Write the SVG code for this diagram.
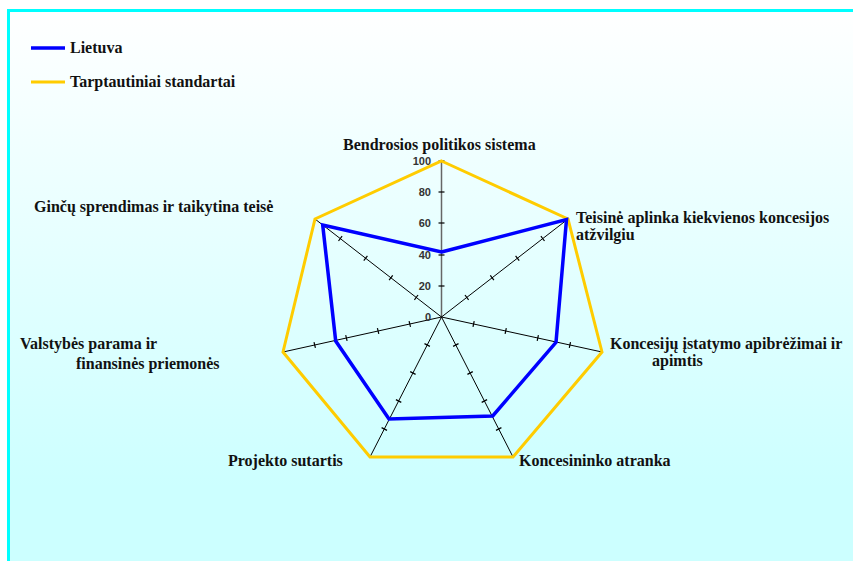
<svg xmlns="http://www.w3.org/2000/svg" width="853" height="561" viewBox="0 0 853 561">
<defs>
<linearGradient id="bg" x1="0" y1="0" x2="0" y2="1">
<stop offset="0" stop-color="#ffffff"/>
<stop offset="0.85" stop-color="#ccffff"/>
<stop offset="1" stop-color="#ccffff"/>
</linearGradient>
<style>
.lbl{font-family:"Liberation Serif","Times New Roman",serif;font-weight:bold;font-size:16px;fill:#111}
.num{font-family:"Liberation Sans",Arial,sans-serif;font-weight:bold;font-size:11px;fill:#333;text-anchor:end}
.ax{stroke:#000;stroke-width:1;fill:none}
.tk{stroke:#000;stroke-width:1.2}
.lt{fill:none;stroke:#0000ff;stroke-width:3.5;stroke-linejoin:miter}
.st{fill:none;stroke:#ffcc00;stroke-width:3;stroke-linejoin:miter}
</style>
</defs>
<rect x="0" y="0" width="853" height="561" fill="#ffffff"/>
<rect x="8.5" y="10.5" width="860" height="560" fill="url(#bg)" stroke="#00ffff" stroke-width="3"/>

<g id="legend">
<line x1="31" y1="48" x2="65" y2="48" class="lt"/>
<text x="70" y="53" class="lbl">Lietuva</text>
<line x1="31" y1="82" x2="65" y2="82" class="st"/>
<text x="70" y="87" class="lbl">Tarptautiniai standartai</text>
</g>

<g id="axes">
<line x1="441.5" y1="317" x2="441.5" y2="161" stroke="#666" stroke-width="1.5"/>
<line x1="441.5" y1="317" x2="568" y2="219" class="ax"/>
<line x1="441.5" y1="317" x2="602" y2="352" class="ax"/>
<line x1="441.5" y1="317" x2="513" y2="457" class="ax"/>
<line x1="441.5" y1="317" x2="370" y2="457" class="ax"/>
<line x1="441.5" y1="317" x2="283" y2="352" class="ax"/>
<line x1="441.5" y1="317" x2="315" y2="219" class="ax"/>
<g class="tk">
<line x1="438.5" y1="286" x2="444.5" y2="286"/>
<line x1="438.5" y1="255" x2="444.5" y2="255"/>
<line x1="438.5" y1="223" x2="444.5" y2="223"/>
<line x1="438.5" y1="192" x2="444.5" y2="192"/>
<line x1="438.5" y1="161" x2="444.5" y2="161"/>
<line x1="465.0" y1="295.0" x2="468.6" y2="299.8"/>
<line x1="490.3" y1="275.4" x2="493.9" y2="280.2"/>
<line x1="515.6" y1="255.8" x2="519.2" y2="260.6"/>
<line x1="540.9" y1="236.2" x2="544.5" y2="241.0"/>
<line x1="474.2" y1="321.1" x2="473.0" y2="326.9"/>
<line x1="506.3" y1="328.1" x2="505.1" y2="333.9"/>
<line x1="538.4" y1="335.1" x2="537.2" y2="340.9"/>
<line x1="570.5" y1="342.1" x2="569.3" y2="347.9"/>
<line x1="458.5" y1="343.6" x2="453.1" y2="346.4"/>
<line x1="472.8" y1="371.6" x2="467.4" y2="374.4"/>
<line x1="487.1" y1="399.6" x2="481.7" y2="402.4"/>
<line x1="501.4" y1="427.6" x2="496.0" y2="430.4"/>
<line x1="429.9" y1="346.4" x2="424.5" y2="343.6"/>
<line x1="415.6" y1="374.4" x2="410.2" y2="371.6"/>
<line x1="401.3" y1="402.4" x2="395.9" y2="399.6"/>
<line x1="387.0" y1="430.4" x2="381.6" y2="427.6"/>
<line x1="410.5" y1="326.9" x2="409.1" y2="321.1"/>
<line x1="378.8" y1="333.9" x2="377.4" y2="328.1"/>
<line x1="347.1" y1="340.9" x2="345.7" y2="335.1"/>
<line x1="315.4" y1="347.9" x2="314.0" y2="342.1"/>
<line x1="414.4" y1="299.8" x2="418.0" y2="295.0"/>
<line x1="389.1" y1="280.2" x2="392.7" y2="275.4"/>
<line x1="363.8" y1="260.6" x2="367.4" y2="255.8"/>
<line x1="338.5" y1="241.0" x2="342.1" y2="236.2"/>
</g>
<g id="scale">
<text x="431" y="321" class="num">0</text>
<text x="431" y="290" class="num">20</text>
<text x="431" y="259" class="num">40</text>
<text x="431" y="227" class="num">60</text>
<text x="431" y="196" class="num">80</text>
<text x="431" y="165" class="num">100</text>
</g>
</g>

<g id="series-standartai">
<polygon points="441.5,161 568,219 602,352 513,457 370,457 283,352 315,219" class="st"/>
</g>
<g id="series-lietuva">
<polygon points="441.5,252 566.5,219.5 556,342.3 492.7,416 389,419 335.7,341 322.7,225" class="lt"/>
</g>

<g id="axis-labels">
<g id="n-bendrosios"><text x="343" y="150" class="lbl">Bendrosios politikos sistema</text></g>
<g id="n-teisine"><text x="576" y="223" class="lbl">Teisinė aplinka kiekvienos koncesijos</text>
<text x="576" y="240" class="lbl">atžvilgiu</text></g>
<g id="n-koncesiju"><text x="610" y="349" class="lbl">Koncesijų įstatymo apibrėžimai ir</text>
<text x="652" y="366" class="lbl">apimtis</text></g>
<g id="n-koncesininko"><text x="519" y="466" class="lbl">Koncesininko atranka</text></g>
<g id="n-projekto"><text x="228" y="466" class="lbl">Projekto sutartis</text></g>
<g id="n-valstybes"><text x="20" y="349" class="lbl">Valstybės parama ir</text>
<text x="76" y="369" class="lbl">finansinės priemonės</text></g>
<g id="n-gincu"><text x="34" y="212" class="lbl">Ginčų sprendimas ir taikytina teisė</text></g>
</g>
</svg>
